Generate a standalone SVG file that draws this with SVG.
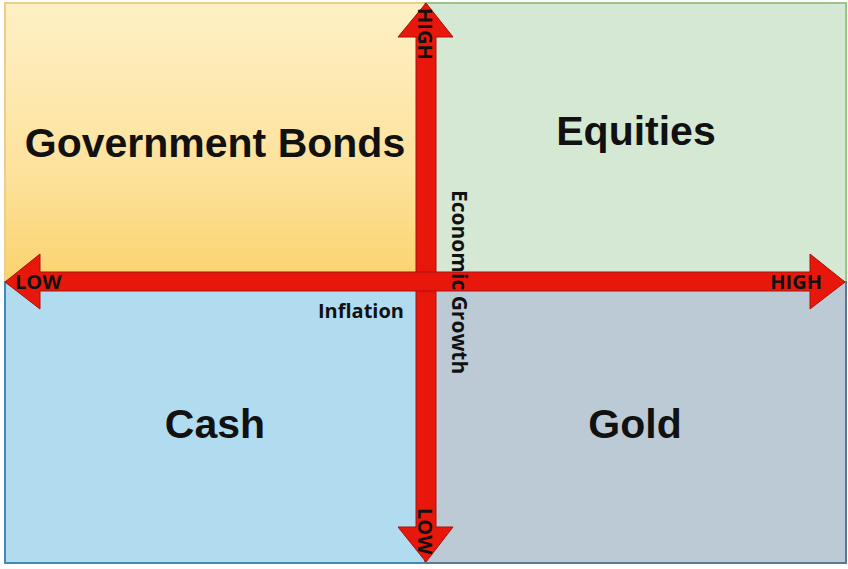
<svg xmlns="http://www.w3.org/2000/svg" width="848" height="569" viewBox="0 0 848 569">
  <defs>
    <linearGradient id="gBonds" x1="0" y1="0" x2="0" y2="1">
      <stop offset="0" stop-color="#fef0c6"/>
      <stop offset="0.6" stop-color="#fde29c"/>
      <stop offset="1" stop-color="#fbd36f"/>
    </linearGradient>
  </defs>
  <style>
    .q { stroke-width: 2; }
    .big { font-family: "Liberation Sans", Arial, sans-serif; font-weight: bold; font-size: 41px; fill: #111; text-anchor: middle; }
    .small { font-family: "Open Sans", "Liberation Sans", sans-serif; font-weight: bold; font-size: 20px; fill: #111; }
    .arrow { fill: #e8170b; stroke: #a8120c; stroke-width: 1; }
  </style>
  <rect width="848" height="569" fill="#ffffff"/>

  <g id="bonds">
    <rect class="q" x="5" y="3" width="420" height="279" fill="url(#gBonds)" stroke="#ead08a"/>
    <text class="big" x="215" y="157">Government Bonds</text>
  </g>
  <g id="equities">
    <rect class="q" x="425" y="3" width="421" height="279" fill="#d5e8d4" stroke="#9cc48a"/>
    <text class="big" x="636" y="145">Equities</text>
  </g>
  <g id="cash">
    <rect class="q" x="5" y="282" width="420" height="281" fill="#b1dcf0" stroke="#4289b3"/>
    <text class="big" x="215" y="438">Cash</text>
  </g>
  <g id="gold">
    <rect class="q" x="425" y="282" width="421" height="281" fill="#bccad6" stroke="#5e7893"/>
    <text class="big" x="635" y="438">Gold</text>
  </g>

  <g id="connectors">
    <polygon class="arrow" points="426,3 453,37 436,37 436,527 453,527 426,562 398,527 416,527 416,37 398,37"/>
    <polygon class="arrow" points="5,282 40,254 40,272 810,272 810,254 845,282 810,309 810,291 40,291 40,309"/>
  </g>

  <g id="axis-labels">
    <text class="small" x="15" y="289">LOW</text>
    <text class="small" x="822" y="289" text-anchor="end">HIGH</text>
    <text class="small" transform="translate(418,8) rotate(90)">HIGH</text>
    <text class="small" transform="translate(418,508) rotate(90)">LOW</text>
    <text class="small" x="404" y="318" text-anchor="end">Inflation</text>
    <text class="small" transform="translate(452,190) rotate(90)" style="font-size:21px">Economic Growth</text>
  </g>
</svg>
